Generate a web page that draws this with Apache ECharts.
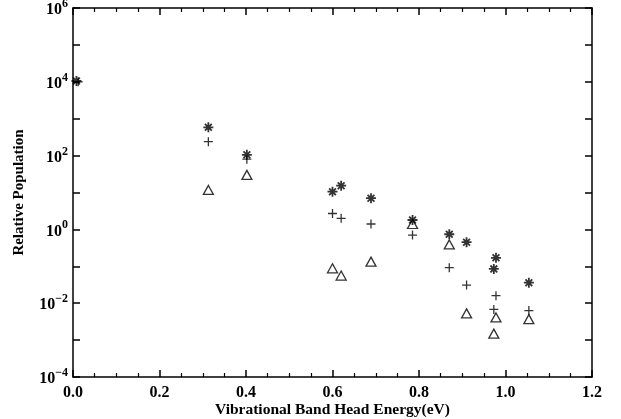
<!DOCTYPE html>
<html>
<head>
<meta charset="utf-8">
<script src="https://cdn.jsdelivr.net/npm/echarts@6/dist/echarts.min.js"></script>
<style>
html, body { margin: 0; padding: 0; background: #fff; }
#chart { width: 621px; height: 419px; }
</style>
</head>
<body>
<div id="chart"></div>
<script>
// star (*) series
var starX = [0.008, 0.313, 0.402, 0.600, 0.620, 0.689, 0.785, 0.870, 0.910, 0.978, 0.973, 1.054];
var starY = [1.05e4, 585, 105, 10.5, 15.3, 7.0, 1.8, 0.74, 0.45, 0.17, 0.085, 0.036];
// plus (+) series
var plusX = [0.012, 0.313, 0.402, 0.600, 0.620, 0.689, 0.785, 0.870, 0.910, 0.978, 0.973, 1.054];
var plusY = [1.0e4, 238, 80, 2.7, 2.0, 1.4, 0.70, 0.092, 0.031, 0.016, 0.0068, 0.0063];
// triangle series
var triX = [0.313, 0.402, 0.600, 0.620, 0.689, 0.785, 0.870, 0.910, 0.978, 0.973, 1.054];
var triY = [11.7, 30, 0.088, 0.056, 0.134, 1.4, 0.39, 0.0053, 0.0041, 0.0015, 0.0037];

var xTicks = ['0.0', '0.2', '0.4', '0.6', '0.8', '1.0', '1.2'];

function pairs(xs, ys) {
	var out = [];
	for (var i = 0; i < xs.length; i++) out.push([xs[i], ys[i]]);
	return out;
}

var myChart = echarts.init(document.getElementById('chart'));
var labelFont = 'Liberation Serif';
var STAR = 'path://M5 0L5 10M0 5L10 5M1.6 1.6L8.4 8.4M8.4 1.6L1.6 8.4';
var PLUS = 'path://M5 0L5 10M0 5L10 5';

var axisLine = { show: true, onZero: false, lineStyle: { color: '#000', width: 1.5 } };

var option = {
	animation: false,
	grid: { left: 73, right: 29, top: 8, bottom: 42, containLabel: false, outerBoundsMode: 'none' },
	xAxis: [{
		type: 'value',
		min: 0,
		max: 1.2,
		interval: 0.2,
		position: 'bottom',
		name: 'Vibrational Band Head Energy(eV)',
		nameLocation: 'middle',
		nameMoveOverlap: false,
		nameGap: 25,
		nameTextStyle: { color: '#000', fontFamily: labelFont, fontWeight: 'bold', fontSize: 15.5, verticalAlign: 'top' },
		axisLine: axisLine,
		axisTick: { inside: true, length: 7, lineStyle: { color: '#000', width: 1.5 } },
		minorTick: { show: true, splitNumber: 4, length: 4, lineStyle: { color: '#000', width: 1.2 } },
		splitLine: { show: false },
		axisLabel: {
			color: '#000', fontFamily: labelFont, fontWeight: 'bold', fontSize: 16, margin: 8,
			formatter: function (v) { return xTicks[Math.round(v / 0.2)]; }
		}
	}, {
		type: 'value',
		min: 0,
		max: 1.2,
		interval: 0.2,
		position: 'top',
		axisLine: axisLine,
		axisTick: { inside: true, length: 7, lineStyle: { color: '#000', width: 1.5 } },
		minorTick: { show: true, splitNumber: 4, length: 4, lineStyle: { color: '#000', width: 1.2 } },
		splitLine: { show: false },
		axisLabel: { show: false }
	}],
	yAxis: [{
		type: 'log',
		logBase: 10,
		min: 1e-4,
		max: 1e6,
		interval: 1,
		position: 'left',
		name: 'Relative Population',
		nameLocation: 'middle',
		nameRotate: 90,
		nameGap: 46,
		nameTextStyle: { color: '#000', fontFamily: labelFont, fontWeight: 'bold', fontSize: 15 },
		axisLine: axisLine,
		axisTick: { inside: true, length: 7, lineStyle: { color: '#000', width: 1.5 } },
		splitLine: { show: false },
		axisLabel: {
			color: '#000', margin: 5,
			formatter: function (v) {
				var e = Math.round(Math.log(v) / Math.LN10);
				if (e % 2 !== 0) return '';
				return '{b|10}{s|' + (e < 0 ? '\u2212' + (-e) : e) + '}';
			},
			rich: {
				b: { fontFamily: labelFont, fontWeight: 'bold', fontSize: 16, color: '#000', lineHeight: 20, verticalAlign: 'bottom' },
				s: { fontFamily: labelFont, fontWeight: 'bold', fontSize: 12, color: '#000', lineHeight: 12, verticalAlign: 'top' }
			}
		}
	}, {
		type: 'log',
		logBase: 10,
		min: 1e-4,
		max: 1e6,
		interval: 1,
		position: 'right',
		axisLine: axisLine,
		axisTick: { inside: true, length: 7, lineStyle: { color: '#000', width: 1.5 } },
		splitLine: { show: false },
		axisLabel: { show: false }
	}],
	series: [{
		type: 'scatter',
		name: 'triangle',
		symbol: 'triangle',
		symbolSize: [10, 9],
		itemStyle: { color: 'rgba(0,0,0,0)', borderColor: '#000', borderWidth: 1.3 },
		data: pairs(triX, triY)
	}, {
		type: 'scatter',
		name: 'plus',
		symbol: PLUS,
		symbolSize: 9,
		itemStyle: { color: 'rgba(0,0,0,0)', borderColor: '#000', borderWidth: 1.3 },
		data: pairs(plusX, plusY)
	}, {
		type: 'scatter',
		name: 'star',
		symbol: STAR,
		symbolSize: 10,
		itemStyle: { color: 'rgba(0,0,0,0)', borderColor: '#000', borderWidth: 1.8 },
		data: pairs(starX, starY)
	}]
};

myChart.setOption(option);
</script>
</body>
</html>
